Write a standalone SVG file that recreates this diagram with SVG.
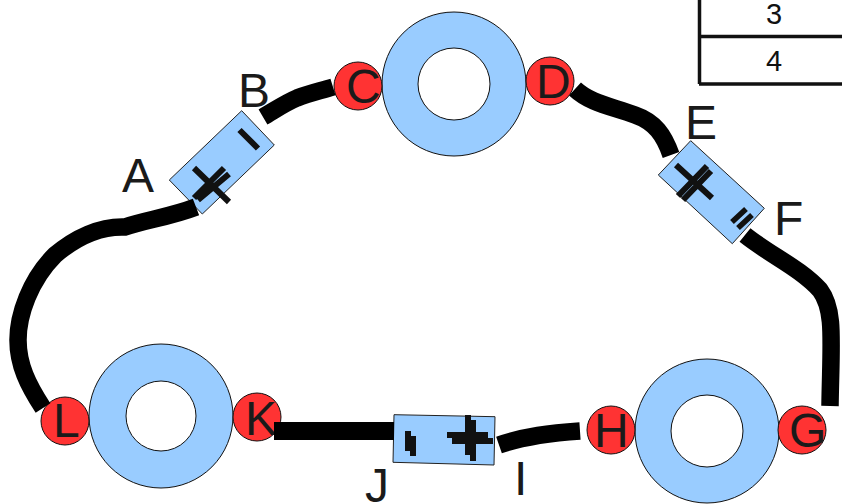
<svg xmlns="http://www.w3.org/2000/svg" width="842" height="504" viewBox="0 0 842 504">
<style>
.ring{fill:#99ccff;stroke:#111;stroke-width:1}
.hole{fill:#fff;stroke:#111;stroke-width:1}
.dot{fill:#ff3333;stroke:#111;stroke-width:1}
.box{fill:#99ccff;stroke:#222;stroke-width:1}
.lab{font-family:"Liberation Sans",Arial,sans-serif;font-size:48px;fill:#1a1a1a}
.num{font-family:"Liberation Sans",Arial,sans-serif;font-size:29px;fill:#111;text-anchor:middle}
.mark{stroke:#111;fill:none;stroke-width:6}
.thin{stroke:#111;fill:none;stroke-width:5.500}
.wire{stroke:#000;fill:none;stroke-width:17.500}
.heavy{stroke:#000;fill:none;stroke-width:18}
.tbl{stroke:#111;fill:none;stroke-width:3.500}
</style>
<g id="table">
<path class="tbl" d="M699.500 0V84M699 36.500H842M699 84H842"/>
<text class="num" x="774" y="24">3</text>
<text class="num" x="774" y="71">4</text>
</g>
<g id="node-top-wheel"><circle class="ring" cx="454" cy="84" r="72"/><circle class="hole" cx="454" cy="84" r="36"/></g>
<g id="node-left-wheel"><circle class="ring" cx="161" cy="416" r="72"/><circle class="hole" cx="161" cy="416" r="35"/></g>
<g id="node-right-wheel"><circle class="ring" cx="707" cy="431" r="72"/><circle class="hole" cx="707" cy="431" r="36"/></g>
<g id="node-C"><circle class="dot" cx="358" cy="86" r="24"/><text class="lab" x="346" y="103">C</text></g>
<g id="node-D"><circle class="dot" cx="550" cy="81" r="24"/><text class="lab" x="536" y="98">D</text></g>
<g id="node-G"><circle class="dot" cx="802" cy="430" r="24"/><text class="lab" x="789" y="447">G</text></g>
<g id="node-H"><circle class="dot" cx="611" cy="430" r="24"/><text class="lab" x="594" y="447">H</text></g>
<g id="node-K"><circle class="dot" cx="257" cy="417" r="24"/><text class="lab" x="245" y="435">K</text></g>
<g id="node-L"><circle class="dot" cx="65" cy="421" r="24"/><text class="lab" x="53" y="437">L</text></g>
<g id="node-AB">
<polygon class="box" points="241.700,110.700 274.300,145 202.300,214 169.300,180"/>
<path class="mark" d="M194 168L229 202M194 198L224 168M198 200L229 174M239.500 130L258 148.500"/>
<text class="lab" x="122" y="192">A</text>
<text class="lab" x="238" y="107">B</text>
</g>
<g id="node-EF">
<polygon class="box" points="690.700,140.700 764.300,208.300 732.300,243.700 658.300,175"/>
<path class="mark" d="M676 165L712 198M707 166L678 196M711 171L683 200"/>
<path class="thin" d="M732 222L746 209M738 228L752 215"/>
<text class="lab" x="685" y="139">E</text>
<text class="lab" x="774" y="235">F</text>
</g>
<g id="node-IJ">
<polygon class="box" points="394,414.700 495,416.700 494,465 393,462.300"/>
<path class="mark" d="M468 415V455M473 420V461M447 435H488M452 441H493M408 431V451M413 436V456"/>
<text class="lab" x="365" y="502">J</text>
<text class="lab" x="514" y="495">I</text>
</g>
<g id="connectors">
<path class="wire" d="M196 207C170 217 145 220 125 227C100 226 75 238 55 255C30 280 18 315 18 340C18 365 28 385 43 408"/>
<path class="wire" d="M263 117C275 110 285 103 297 98C310 93 320 91 333 87"/>
<path class="wire" d="M575 89C590 103 610 106 635 115C655 122 664 135 671 155"/>
<path class="wire" d="M745 235C770 255 800 268 820 290C835 310 831 340 830 406"/>
<path class="heavy" d="M274 431H394"/>
<path class="wire" d="M499 445C525 436 550 433 580 431"/>
</g>
</svg>
